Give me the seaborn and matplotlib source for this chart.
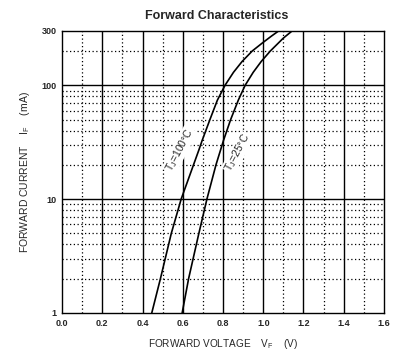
import numpy as np
import pandas as pd
import matplotlib
matplotlib.use("Agg")
import matplotlib.pyplot as plt
import seaborn as sns

current_100c = [1, 2, 5, 10, 27, 33, 50, 74, 100, 130, 162, 200, 235, 270, 300]
vf_100c = [0.446, 0.489, 0.543, 0.592, 0.68, 0.697, 0.735, 0.772, 0.81, 0.852,
           0.895, 0.945, 0.995, 1.04, 1.076]
current_25c = [1, 2, 5, 10, 20, 33, 50, 74, 100, 130, 162, 200, 260, 300]
vf_25c = [0.597, 0.629, 0.68, 0.72, 0.765, 0.803, 0.838, 0.876, 0.91, 0.95,
          0.99, 1.035, 1.1, 1.143]
x_ticks = [0.0, 0.2, 0.4, 0.6, 0.8, 1.0, 1.2, 1.4, 1.6]
y_ticks = [1, 10, 100, 300]

sns.set_style("white")
plt.rcParams['font.family'] = ['Liberation Sans', 'DejaVu Sans']

df = pd.DataFrame({
    "vf": vf_100c + vf_25c,
    "if": current_100c + current_25c,
    "temp": ["100"] * len(current_100c) + ["25"] * len(current_25c),
})

fig = plt.figure(figsize=(4.14, 3.55), dpi=100)
ax = fig.add_axes([62/414, 42/355, (384-62)/414, (313-31)/355])

ax.set_yscale("log")
ax.set_xlim(0, 1.6)
ax.set_ylim(1, 300)

# grid
for x in np.arange(0.2, 1.6, 0.2):
    ax.axvline(x, color="black", lw=1.0, zorder=1)
for x in np.arange(0.1, 1.6, 0.2):
    ax.axvline(x, color="black", lw=0.9, ls=(0, (1, 2)), zorder=1)
for y in [10, 100]:
    ax.axhline(y, color="black", lw=1.0, zorder=1)
for dec in [1, 10]:
    for m in range(2, 10):
        ax.axhline(dec*m, color="black", lw=0.9, ls=(0, (1, 2)), zorder=1)
ax.axhline(200, color="black", lw=0.9, ls=(0, (1, 2)), zorder=1)

sns.lineplot(data=df, x="vf", y="if", units="temp", estimator=None,
             color="black", lw=1.2, sort=False, ax=ax, legend=False, zorder=3)

ax.set_xticks(x_ticks)
ax.set_xticklabels([f"{v:.1f}" for v in x_ticks], fontsize=6.5, fontweight="bold")
ax.set_yticks(y_ticks)
ax.set_yticklabels([str(v) for v in y_ticks], fontsize=6.5, fontweight="bold")
ax.minorticks_off()
ax.tick_params(length=0, pad=4)
for s in ax.spines.values():
    s.set_color("black")
    s.set_linewidth(1.0)

ax.set_xlabel(r"FORWARD VOLTAGE    V$_\mathregular{F}$    (V)", fontsize=7.2, labelpad=7)
ax.set_ylabel(r"FORWARD CURRENT    I$_\mathregular{F}$    (mA)", fontsize=7.5, labelpad=7)

box = dict(facecolor="white", edgecolor="none", pad=0.5)
ax.text(0.585, 27, "T$_\\mathregular{J}$=100°C", rotation=62, fontsize=7.5,
        ha="center", va="center", zorder=2, rotation_mode="anchor", bbox=box)
ax.text(0.872, 25.6, "T$_\\mathregular{J}$=25°C", rotation=62, fontsize=7.5,
        ha="center", va="center", zorder=2, rotation_mode="anchor", bbox=box)

fig.text(216.5/414, 1 - 16/355, "Forward Characteristics", fontsize=9,
         fontweight="bold", ha="center", va="center")

fig.savefig("out.png", dpi=100)
